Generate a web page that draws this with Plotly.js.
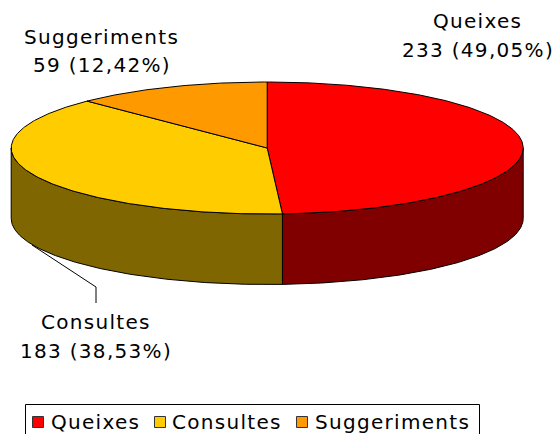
<!DOCTYPE html>
<html>
<head>
<meta charset="utf-8">
<script src="https://cdn.plot.ly/plotly-3.0.1.min.js"></script>
<style>html,body{margin:0;padding:0;background:#fff;overflow:hidden}
.annotation-text{letter-spacing:1.3px}</style>
</head>
<body>
<div id="chart" style="width:556px;height:434px"></div>
<script>
const categories = ["Queixes", "Consultes", "Suggeriments"];
const values = [233, 183, 59];
const percentLabels = ["49,05%", "38,53%", "12,42%"];
const topColors = ["#FF0000", "#FFCC00", "#FF9900"];
const sideColors = ["#800000", "#806600", "#805000"];

// Projection of the tilted pie on a pixel-like axis space
const cx = 267.2, cy = 148, rx = 256, ry = 66, depth = 70.5;
const FONT = "DejaVu Sans, Verdana, sans-serif";
const total = values.reduce((a, b) => a + b, 0);

function px(t) { return cx + rx * Math.sin(t); }
function py(t) { return cy - ry * Math.cos(t); }
function arc(a, b, dy) {
  const n = Math.max(2, Math.ceil(Math.abs(b - a) / 0.01));
  const xs = [], ys = [];
  for (let i = 0; i <= n; i++) {
    const t = a + (b - a) * i / n;
    xs.push(px(t)); ys.push(py(t) + dy);
  }
  return [xs, ys];
}

const sides = [], tops = [];
let acc = 0;
values.forEach((v, i) => {
  const a = acc / total * 2 * Math.PI;
  acc += v;
  const b = acc / total * 2 * Math.PI;
  const [ax, ay] = arc(a, b, 0);
  tops.push({
    type: "scatter", mode: "lines", x: [cx, ...ax, cx], y: [cy, ...ay, cy],
    fill: "toself", fillcolor: topColors[i], line: {color: "#000", width: 1},
    name: categories[i], hoverinfo: "name", showlegend: false
  });
  const s = Math.max(a, Math.PI / 2), e = Math.min(b, 3 * Math.PI / 2);
  if (e > s) {
    const [fx, fy] = arc(s, e, 0);
    const [bx, by] = arc(e, s, depth);
    sides.push({
      type: "scatter", mode: "lines", x: [...fx, ...bx, fx[0]], y: [...fy, ...by, fy[0]],
      fill: "toself", fillcolor: sideColors[i], line: {color: "#000", width: 1},
      hoverinfo: "skip", showlegend: false
    });
  }
});

const labelPos = [[477.5, 21, 50], [95.5, 322, 351], [101.5, 37, 65]];
const annotations = [];
function note(x, y, text, size) {
  annotations.push({x, y, xref: "x", yref: "y", text, showarrow: false,
    xanchor: "center", yanchor: "middle", font: {family: FONT, size, color: "#000"}});
}
categories.forEach((c, i) => {
  note(labelPos[i][0], labelPos[i][1], c, 20);
  note(labelPos[i][0], labelPos[i][2], values[i] + " (" + percentLabels[i] + ")", 20);
});

const legendSwatchX = [38, 160, 302];
const legendTextX = [52, 173, 316];
const legendY = 422;
const swatches = {
  type: "scatter", mode: "markers", x: legendSwatchX, y: legendSwatchX.map(() => legendY),
  marker: {symbol: "square", size: 11, color: topColors, line: {color: "#333", width: 1}},
  hoverinfo: "skip", showlegend: false
};
categories.forEach((c, i) => {
  annotations.push({x: legendTextX[i], y: legendY, xref: "x", yref: "y", text: c, showarrow: false,
    xanchor: "left", yanchor: "middle", xshift: -3, font: {family: FONT, size: 20, color: "#000"}});
});

const layout = {
  width: 556, height: 434, margin: {l: 0, r: 0, t: 0, b: 0},
  paper_bgcolor: "#fff", plot_bgcolor: "#fff", showlegend: false,
  xaxis: {range: [0, 556], visible: false, fixedrange: true},
  yaxis: {range: [434, 0], visible: false, fixedrange: true},
  annotations,
  shapes: [
    {type: "path", path: "M32,245 L96,287 L96,303", line: {color: "#000", width: 1}, xref: "x", yref: "y"},
    {type: "rect", x0: 25.5, x1: 479.5, y0: 404.5, y1: 440, line: {color: "#000", width: 1}, xref: "x", yref: "y"}
  ]
};

Plotly.newPlot("chart", [...sides, ...tops, swatches], layout, {displayModeBar: false, staticPlot: true});
</script>
</body>
</html>
